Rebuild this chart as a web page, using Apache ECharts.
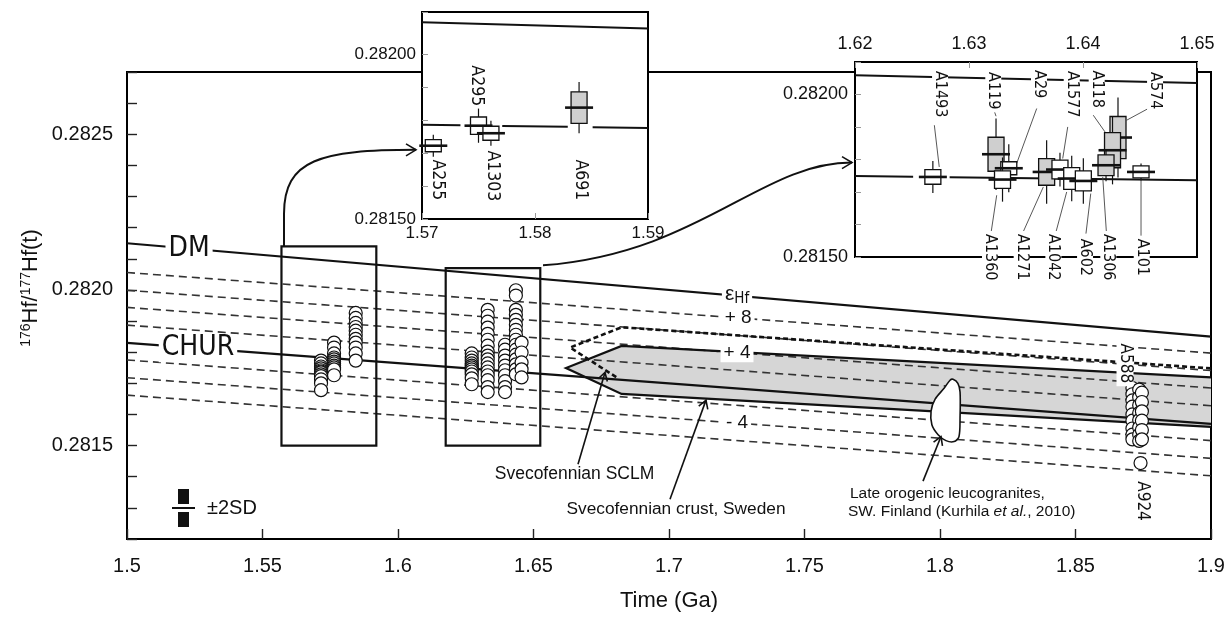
<!DOCTYPE html>
<html>
<head>
<meta charset="utf-8">
<script src="https://cdn.jsdelivr.net/npm/echarts@6/dist/echarts.min.js"></script>
<style>
html,body{margin:0;padding:0;background:#fff;}
#chart{width:1228px;height:617px;}
</style>
</head>
<body>
<div id="chart"></div>
<script>
// ================= DATA =================
// Main panel: x = Time (Ga), y = 176Hf/177Hf(t)
const dmLine   = [[1.5, 0.28215], [1.9, 0.28185]];
const churLine = [[1.5, 0.28183], [1.9, 0.28157]];
// epsilon-Hf reference lines, value at 1.5 Ga and at 1.9 Ga
const epsUnits = ['+8', '+6', '+4', '+2', '-2', '-4', '-6'];
const epsAt150 = [0.282056, 0.281999, 0.281944, 0.281887, 0.281775, 0.281718, 0.281662];
const epsAt190 = [0.281797, 0.281741, 0.281685, 0.281628, 0.281516, 0.281459, 0.281403];
// Svecofennian crust (Sweden) field, SCLM outline, late-orogenic leucogranites
const crustField  = [[1.662,0.281749],[1.6825,0.28182],[1.9,0.281719],[1.9,0.28156],[1.6825,0.281666]];
const sclmOutline = [[1.9,0.281748],[1.6825,0.28188],[1.6635,0.281815],[1.6807,0.281719]];
const leucoField  = [[1.8048,0.281713],[1.8066,0.2817],[1.8074,0.281672],[1.8074,0.281592],[1.807,0.281529],
                     [1.8052,0.281513],[1.8022,0.281516],[1.7993,0.281535],[1.797,0.281567],[1.7967,0.281611],
                     [1.7982,0.281649],[1.8015,0.281684],[1.8037,0.28171]];
// framed groups of analyses [xmin, xmax, ymin, ymax]
const groupBoxes = [[1.557, 1.592, 0.2815, 0.28214], [1.6176, 1.6525, 0.2815, 0.28207]];
// individual zircon analyses, grouped by age
const grainAge = [1.5716, 1.5764, 1.5844, 1.6272, 1.6331, 1.6395, 1.6435, 1.6456, 1.8710, 1.8735, 1.8745, 1.8740];
const grainHf = [
  [0.281773,0.281764,0.281754,0.281748,0.281742,0.281738,0.281735,0.281729,0.281723,0.281713,0.2817,0.281678],
  [0.281831,0.281815,0.281796,0.281783,0.281777,0.28177,0.281764,0.281757,0.281751,0.281745,0.281726],
  [0.281926,0.28191,0.281894,0.281881,0.281869,0.281856,0.281843,0.281831,0.281815,0.281796,0.281773],
  [0.281796,0.281783,0.281773,0.281764,0.281757,0.281751,0.281745,0.281738,0.281729,0.281716,0.281697],
  [0.281936,0.281917,0.281898,0.281879,0.281859,0.28184,0.281821,0.281802,0.281789,0.281777,0.281764,0.281751,0.281738,0.281726,0.28171,0.281688,0.281672],
  [0.281824,0.281808,0.281789,0.281773,0.281757,0.281742,0.281726,0.281707,0.281688,0.281672],
  [0.281999,0.281982,0.281936,0.28192,0.281904,0.281888,0.281872,0.281856,0.28184,0.281824,0.281808,0.281792,0.281777,0.281761,0.281745,0.281729],
  [0.281831,0.281799,0.281767,0.281745,0.281719],
  [0.281685,0.281665,0.281645,0.281625,0.2816,0.28158,0.281555,0.281535,0.28152],
  [0.28168,0.281655,0.28163,0.281605,0.281582,0.281558,0.281535,0.281515],
  [0.28167,0.28164,0.28161,0.28158,0.28155,0.28152],
  [0.281444]
];

// Inset 1 (1.57-1.59 Ga): sample means with box (half-height) and whisker (half-length)
const ins1Names = ['A255', 'A295', 'A1303', 'A691'];
const ins1Age   = [1.571, 1.575, 1.5761, 1.5839];
const ins1Hf    = [0.281723, 0.281784, 0.281761, 0.281839];
const ins1Box   = [0.0000183, 0.0000265, 0.0000213, 0.0000478];
const ins1Err   = [0.0000335, 0.000052, 0.000038, 0.0000777];
const ins1Grey  = [0, 0, 0, 1];
const ins1Dm    = [[1.57, 0.2820985], [1.59, 0.28208]];
const ins1Chur  = [[[1.57,0.281787],[1.5734,0.2817853]], [[1.5771,0.2817834],[1.5829,0.2817806]], [[1.5851,0.2817795],[1.59,0.281777]]];

// Inset 2 (1.62-1.65 Ga)
const ins2Names = ['A1493','A119','A29','A1360','A1271','A1577','A1042','A602','A574','A118','A1306','A101'];
const ins2Age   = [1.62683,1.63237,1.63349,1.63294,1.63681,1.63798,1.63901,1.64003,1.64307,1.64259,1.64202,1.64509];
const ins2Hf    = [0.2817463,0.2818162,0.2817731,0.2817383,0.2817617,0.2817691,0.2817414,0.281734,0.2818676,0.2818285,0.2817823,0.2817617];
const ins2Box   = [0.0000225,0.0000523,0.00002,0.000027,0.000041,0.000029,0.0000334,0.0000308,0.0000647,0.0000539,0.0000317,0.0000185];
const ins2Err   = [0.0000493,0.00011,0.000074,0.000068,0.0000975,0.000052,0.00007,0.00007,0.000123,0.000105,0.000049,0.000026];
const ins2Grey  = [0,1,0,0,1,0,0,0,1,1,1,0];
const ins2Dm    = [[1.62, 0.2820594], [1.65, 0.2820357]];
const ins2Chur  = [[[1.62,0.281749],[1.6251,0.2817468]], [[1.6283,0.2817454],[1.65,0.281736]]];

// ================= LAYOUT / ANNOTATIONS =================
const NARROW = '"Liberation Sans Narrow","Arial Narrow","DejaVu Sans Condensed",sans-serif';
const SANS = '"Liberation Sans",Arial,Helvetica,sans-serif';
const INK = '#111';

const mainNotes = [
  {t:'DM', at:[1.5229,0.282133], font:'28px '+NARROW, bg:true},
  {t:'CHUR', at:[1.5262,0.281813], font:'28px '+NARROW, bg:true},
  {t:'{e|ε}{s|Hf}', at:[1.7251,0.281985], rich:true, bg:true},
  {t:'+ 8', at:[1.7255,0.28191], font:'19px '+SANS, bg:true},
  {t:'+ 4', at:[1.7251,0.281798], font:'19px '+SANS, bg:true},
  {t:'- 4', at:[1.7251,0.281572], font:'19px '+SANS, bg:true},
  {t:'A588', at:[1.86827,0.281764], font:'17px '+NARROW, rot:true, bg:true},
  {t:'A924', at:[1.87454,0.281322], font:'17px '+NARROW, rot:true, bg:true},
  {t:'Svecofennian SCLM', at:[1.66513,0.281408], font:'17.5px '+SANS},
  {t:'Svecofennian crust, Sweden', at:[1.70258,0.281297], font:'17.3px '+SANS},
  {t:'Late orogenic leucogranites,', at:[1.76679,0.281347], font:'15.5px '+SANS, left:true},
  {t:'SW. Finland (Kurhila {i|et al.}, 2010)', at:[1.76605,0.281287], font:'15.5px '+SANS, left:true, richIt:true}
];
const mainArrows = [
  [[1.66642,0.28144],[1.67638,0.281735]],
  [[1.70037,0.281328],[1.71365,0.281646]],
  [[1.79373,0.281386],[1.80037,0.281529]]
];
// curved connectors from the framed groups to the insets: start, line-to, cubic cp1, cp2, end
const connectors = [
  [[1.55793,0.282139],[1.55793,0.282244],[1.55793,0.282419],[1.57122,0.28245],[1.60664,0.28245]],
  [[1.65351,0.282079],[1.65351,0.282079],[1.71144,0.282117],[1.73358,0.282409],[1.76753,0.282409]]
];
const ins1LabelAt = [[1.57139,0.281619],[1.57483,0.2819055],[1.57627,0.281631],[1.58399,0.281619]];
const ins2LabelAt = {
  A1493:[1.62746,0.282001], A119:[1.63213,0.2820117], A29:[1.63614,0.2820317], A1577:[1.63901,0.282001],
  A118:[1.6412,0.2820163], A574:[1.64632,0.2820117],
  A1360:[1.63184,0.2814991], A1271:[1.63462,0.2814991], A1042:[1.6374,0.2814991], A602:[1.64018,0.2814991],
  A1306:[1.64222,0.2814991], A101:[1.64515,0.2814991]
};
const ins2Leaders = [
  [[1.62696,0.2819055],[1.62739,0.2817771]],
  [[1.63213,0.2819578],[1.63237,0.2819332]],
  [[1.63594,0.2819569],[1.63418,0.2817876]],
  [[1.63866,0.2819002],[1.63822,0.281803]],
  [[1.6409,0.2819363],[1.64193,0.2818849]],
  [[1.64573,0.2819569],[1.64383,0.2819209]],
  [[1.63243,0.28169],[1.6319,0.2815668]],
  [[1.63652,0.2817155],[1.63462,0.2815668]],
  [[1.63857,0.2817001],[1.63763,0.281577]],
  [[1.64068,0.2816952],[1.64026,0.281572]],
  [[1.64173,0.2817463],[1.64208,0.2815616]],
  [[1.64509,0.2817383],[1.64509,0.2815514]]
];

// ================= helpers =================
function seg(api, a, b, style) {
  const p = api.coord(a), q = api.coord(b);
  return {type:'line', shape:{x1:p[0],y1:p[1],x2:q[0],y2:q[1]}, style: style};
}
function head(tip, from, size) {
  const dx = tip[0]-from[0], dy = tip[1]-from[1], L = Math.hypot(dx,dy) || 1;
  const ux = dx/L, uy = dy/L, nx = -uy, ny = ux;
  return {type:'polyline', shape:{points:[
    [tip[0]-ux*size+nx*size*0.6, tip[1]-uy*size+ny*size*0.6], tip,
    [tip[0]-ux*size-nx*size*0.6, tip[1]-uy*size-ny*size*0.6]]},
    style:{stroke:INK, lineWidth:1.6, fill:null}};
}
function textEl(api, n) {
  const p = api.coord(n.at);
  const style = {text:n.t, fill:INK, align:n.left?'left':'center', verticalAlign:'middle'};
  if (n.rich) {
    style.rich = {e:{fontFamily:SANS, fontSize:21, fill:INK}, s:{fontFamily:NARROW, fontSize:15, fill:INK, padding:[10,0,0,0]}};
  } else {
    style.font = n.font;
  }
  if (n.richIt) {
    const sz = parseFloat(n.font);
    style.rich = {i:{fontFamily:SANS, fontSize:sz, fontStyle:'italic', fill:INK}};
  }
  if (n.bg) { style.backgroundColor = '#fff'; style.padding = [0,3]; }
  return {type:'text', x:p[0], y:p[1], rotation:n.rot?-Math.PI/2:0, style:style};
}
function boxRender(names, age, hf, bx, er, grey) {
  return function (params, api) {
    const children = [];
    for (let i = 0; i < names.length; i++) {
      const c = api.coord([age[i], hf[i]]);
      const bt = api.coord([age[i], hf[i]+bx[i]])[1], bb = api.coord([age[i], hf[i]-bx[i]])[1];
      const wt = api.coord([age[i], hf[i]+er[i]])[1], wb = api.coord([age[i], hf[i]-er[i]])[1];
      children.push({type:'line', shape:{x1:c[0],y1:wt,x2:c[0],y2:wb}, style:{stroke:INK,lineWidth:1.2}});
      children.push({type:'rect', shape:{x:c[0]-8,y:bt,width:16,height:bb-bt},
        style:{fill:grey[i]?'#cfcfcf':'#fff', stroke:INK, lineWidth:1.3}});
      children.push({type:'line', shape:{x1:c[0]-14,y1:c[1],x2:c[0]+14,y2:c[1]}, style:{stroke:INK,lineWidth:2.6}});
    }
    return {type:'group', children:children};
  };
}
const fmt2 = v => String(Math.round(v*100)/100);
const onHalf = v => Math.round(v*10000) % 5 === 0;

// ================= series =================
const series = [];
// crust field fill
series.push({type:'custom', xAxisIndex:0, yAxisIndex:0, z:1, silent:true, data:[[1.7,0.2818]],
  renderItem:(p,api)=>({type:'polygon', shape:{points:crustField.map(q=>api.coord(q))}, style:{fill:'#d6d6d6', stroke:null}})});
// epsilon lines
epsUnits.forEach((u,i)=>{
  series.push({type:'line', name:'eps'+u, xAxisIndex:0, yAxisIndex:0, z:2, silent:true, showSymbol:false,
    data:[[1.5,epsAt150[i]],[1.9,epsAt190[i]]], lineStyle:{color:'#333', width:1.6, type:[8,5]}});
});
// crust field edges + SCLM outline
series.push({type:'custom', xAxisIndex:0, yAxisIndex:0, z:3, silent:true, data:[[1.7,0.2818]],
  renderItem:(p,api)=>{
    const pts = crustField.map(q=>api.coord(q));
    return {type:'group', children:[
      {type:'polyline', shape:{points:[pts[2],pts[1],pts[0],pts[4],pts[3]]}, style:{stroke:INK, lineWidth:2.2, fill:null}},
      {type:'polyline', shape:{points:sclmOutline.map(q=>api.coord(q))}, style:{stroke:INK, lineWidth:2.6, lineDash:[5,3], fill:null}}
    ]};
  }});
series.push({type:'line', name:'DM', xAxisIndex:0, yAxisIndex:0, z:3, silent:true, showSymbol:false, data:dmLine, lineStyle:{color:INK, width:2.2}});
series.push({type:'line', name:'CHUR', xAxisIndex:0, yAxisIndex:0, z:3, silent:true, showSymbol:false, data:churLine, lineStyle:{color:INK, width:2.2}});
series.push({type:'custom', xAxisIndex:0, yAxisIndex:0, z:4, silent:true, data:[[1.8,0.2816]],
  renderItem:(p,api)=>({type:'polygon', shape:{points:leucoField.map(q=>api.coord(q)), smooth:0.3}, style:{fill:'#fff', stroke:INK, lineWidth:1.6}})});
// framed groups
series.push({type:'custom', xAxisIndex:0, yAxisIndex:0, z:4, silent:true, data:[[1.6,0.2818]],
  renderItem:(p,api)=>({type:'group', children:groupBoxes.map(b=>{
    const a = api.coord([b[0],b[3]]), c = api.coord([b[1],b[2]]);
    return {type:'rect', shape:{x:a[0],y:a[1],width:c[0]-a[0],height:c[1]-a[1]}, style:{fill:null, stroke:INK, lineWidth:2.2}};
  })})});
// analyses
const grains = [];
grainAge.forEach((x,i)=>grainHf[i].forEach(y=>grains.push([x,y])));
series.push({type:'scatter', xAxisIndex:0, yAxisIndex:0, z:5, silent:true, data:grains, symbol:'circle', symbolSize:13,
  itemStyle:{color:'#fff', borderColor:INK, borderWidth:1.2, opacity:1}});
// annotations
series.push({type:'custom', xAxisIndex:0, yAxisIndex:0, z:6, silent:true, data:[[1.7,0.2818]],
  renderItem:(p,api)=>{
    const ch = [];
    mainArrows.forEach(a=>{
      const s = api.coord(a[0]), e = api.coord(a[1]);
      ch.push({type:'line', shape:{x1:s[0],y1:s[1],x2:e[0],y2:e[1]}, style:{stroke:INK, lineWidth:1.6}});
      ch.push(head(e, s, 8));
    });
    connectors.forEach(c=>{
      const q = c.map(v=>api.coord(v));
      ch.push({type:'line', shape:{x1:q[0][0],y1:q[0][1],x2:q[1][0],y2:q[1][1]}, style:{stroke:INK, lineWidth:2}});
      ch.push({type:'bezierCurve', shape:{x1:q[1][0],y1:q[1][1],cpx1:q[2][0],cpy1:q[2][1],cpx2:q[3][0],cpy2:q[3][1],x2:q[4][0],y2:q[4][1]},
        style:{stroke:INK, lineWidth:2, fill:null}});
      ch.push(head(q[4], [q[4][0]-10, q[4][1]], 10));
    });
    mainNotes.forEach(n=>ch.push(textEl(api, n)));
    return {type:'group', children:ch};
  }});

// ---- inset 1 ----
series.push({type:'line', xAxisIndex:1, yAxisIndex:1, z:12, silent:true, showSymbol:false, data:ins1Dm, lineStyle:{color:INK, width:2}});
series.push({type:'custom', xAxisIndex:1, yAxisIndex:1, z:12, silent:true, data:[[1.58,0.2818]],
  renderItem:(p,api)=>({type:'group', children:ins1Chur.map(s=>seg(api,s[0],s[1],{stroke:INK,lineWidth:2}))})});
series.push({type:'custom', xAxisIndex:1, yAxisIndex:1, z:13, silent:true, data:[[1.58,0.2818]],
  renderItem:boxRender(ins1Names, ins1Age, ins1Hf, ins1Box, ins1Err, ins1Grey)});
series.push({type:'custom', xAxisIndex:1, yAxisIndex:1, z:14, silent:true, data:[[1.58,0.2818]],
  renderItem:(p,api)=>({type:'group', children:ins1Names.map((n,i)=>textEl(api,{t:n, at:ins1LabelAt[i], font:'17.5px '+NARROW, rot:true}))})});

// ---- inset 2 ----
series.push({type:'line', xAxisIndex:2, yAxisIndex:2, z:12, silent:true, showSymbol:false, data:ins2Dm, lineStyle:{color:INK, width:2}});
series.push({type:'custom', xAxisIndex:2, yAxisIndex:2, z:12, silent:true, data:[[1.635,0.2818]],
  renderItem:(p,api)=>({type:'group', children:ins2Chur.map(s=>seg(api,s[0],s[1],{stroke:INK,lineWidth:2}))
    .concat(ins2Leaders.map(s=>seg(api,s[0],s[1],{stroke:'#444',lineWidth:0.9})))})});
series.push({type:'custom', xAxisIndex:2, yAxisIndex:2, z:13, silent:true, data:[[1.635,0.2818]],
  renderItem:boxRender(ins2Names, ins2Age, ins2Hf, ins2Box, ins2Err, ins2Grey)});
series.push({type:'custom', xAxisIndex:2, yAxisIndex:2, z:14, silent:true, data:[[1.635,0.2818]],
  renderItem:(p,api)=>({type:'group', children:ins2Names.map(n=>textEl(api,{t:n, at:ins2LabelAt[n], font:'16px '+NARROW, rot:true, bg:true}))})});

// ================= axes =================
const tickStyle = {color:'#222', width:1.4};
const option = {
  animation:false,
  backgroundColor:'#fff',
  grid:[
    {left:127, top:72, width:1084, height:473, show:true, borderColor:'#000', borderWidth:2, z:0},
    {left:422, top:12, width:226, height:207, show:true, backgroundColor:'#fff', borderColor:'#000', borderWidth:2, z:10},
    {left:855, top:62, width:342, height:195, show:true, backgroundColor:'#fff', borderColor:'#000', borderWidth:2, z:10}
  ],
  xAxis:[
    {gridIndex:0, type:'value', min:1.5, max:1.9, interval:0.05, z:0,
     axisLine:{onZero:false, lineStyle:{color:'#000', width:2}},
     axisTick:{inside:true, length:10, lineStyle:tickStyle},
     axisLabel:{fontFamily:SANS, fontSize:20, color:INK, margin:17, formatter:fmt2},
     splitLine:{show:false},
     name:'Time (Ga)', nameLocation:'middle', nameGap:51, nameTextStyle:{fontFamily:SANS, fontSize:22, color:INK}},
    {gridIndex:1, type:'value', min:1.57, max:1.59, interval:0.01, z:11,
     axisLine:{onZero:false, lineStyle:{color:'#000', width:2}},
     axisTick:{inside:true, length:6, lineStyle:{color:'#999', width:1}},
     axisLabel:{fontFamily:SANS, fontSize:17, color:INK, margin:6, formatter:fmt2},
     splitLine:{show:false}},
    {gridIndex:2, type:'value', position:'top', min:1.62, max:1.65, interval:0.01, z:11,
     axisLine:{onZero:false, lineStyle:{color:'#000', width:2}},
     axisTick:{inside:true, length:6, lineStyle:{color:'#999', width:1}},
     axisLabel:{fontFamily:SANS, fontSize:18, color:INK, margin:9, formatter:fmt2},
     splitLine:{show:false}}
  ],
  yAxis:[
    {gridIndex:0, type:'value', min:0.2812, max:0.2827, interval:0.0001, z:0,
     axisLine:{onZero:false, lineStyle:{color:'#000', width:2}},
     axisTick:{inside:true, length:10, lineStyle:tickStyle},
     axisLabel:{fontFamily:SANS, fontSize:20, color:INK, margin:14, formatter:v=>onHalf(v)?(Math.round(v*10000)/10000).toFixed(4):''},
     splitLine:{show:false}},
    {gridIndex:1, type:'value', min:0.2815, max:0.28213, interval:0.0001, z:11,
     axisLine:{onZero:false, lineStyle:{color:'#000', width:2}},
     axisTick:{inside:true, length:6, lineStyle:{color:'#999', width:1}},
     axisLabel:{fontFamily:SANS, fontSize:17, color:INK, margin:6, formatter:v=>onHalf(v)?(Math.round(v*10000)/10000).toFixed(5):''},
     splitLine:{show:false}},
    {gridIndex:2, type:'value', min:0.2815, max:0.2821, interval:0.0001, z:11,
     axisLine:{onZero:false, lineStyle:{color:'#000', width:2}},
     axisTick:{inside:true, length:6, lineStyle:{color:'#999', width:1}},
     axisLabel:{fontFamily:SANS, fontSize:18, color:INK, margin:7, formatter:v=>onHalf(v)?(Math.round(v*10000)/10000).toFixed(5):''},
     splitLine:{show:false}}
  ],
  graphic:[
    {type:'text', x:31, y:288, rotation:Math.PI/2, silent:true,
     style:{text:'{s|176}{b|Hf/}{s|177}{b|Hf(t)}', align:'center', verticalAlign:'middle',
       rich:{s:{fontFamily:SANS, fontSize:14, fill:INK, padding:[0,0,10,0]}, b:{fontFamily:SANS, fontSize:22, fill:INK}}}},
    {type:'rect', silent:true, shape:{x:178,y:489,width:11,height:15}, style:{fill:INK}},
    {type:'rect', silent:true, shape:{x:178,y:512,width:11,height:15}, style:{fill:INK}},
    {type:'line', silent:true, shape:{x1:172,y1:508,x2:195,y2:508}, style:{stroke:INK, lineWidth:2}},
    {type:'text', silent:true, x:207, y:508, style:{text:'±2SD', font:'20px '+SANS, fill:INK, verticalAlign:'middle'}}
  ],
  series:series
};
const chart = echarts.init(document.getElementById('chart'));
chart.setOption(option);
</script>
</body>
</html>
